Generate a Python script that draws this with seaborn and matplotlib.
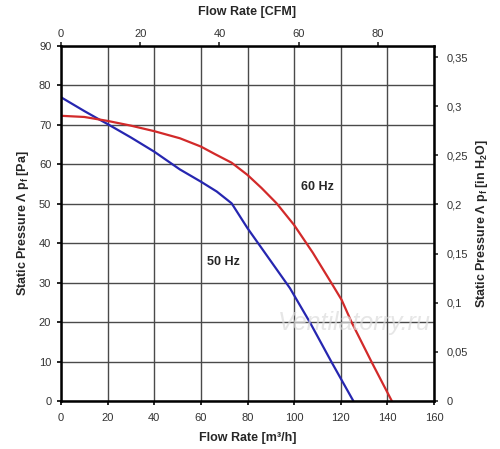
import pandas as pd
import matplotlib
matplotlib.use("Agg")
import matplotlib.pyplot as plt
import seaborn as sns

# 50 Hz curve (m3/h, Pa)
flow_50 = [0, 10, 16, 20, 30, 40, 51, 60, 66.8, 73.2, 80, 89.7, 98.2, 106.8, 116.1, 125.4]
pres_50 = [77.0, 73.5, 71.5, 70.2, 66.8, 63.2, 58.7, 55.6, 53.1, 50.1, 43.8, 35.7, 28.6, 19.9, 9.8, 0]
# 60 Hz curve
flow_60 = [0, 10, 20, 30, 40, 51, 60, 66, 73.2, 80, 86, 92.5, 100, 108, 116.1, 120.4, 124.7, 133.3, 141.9]
pres_60 = [72.3, 72.0, 71.0, 69.8, 68.4, 66.6, 64.5, 62.6, 60.4, 57.3, 54.0, 50.1, 44.6, 37.6, 29.8, 25.6, 19.9, 9.8, 0]

x_ticks = [0, 20, 40, 60, 80, 100, 120, 140, 160]
y_ticks = [0, 10, 20, 30, 40, 50, 60, 70, 80, 90]
cfm_ticks = [0, 20, 40, 60, 80]
inh2o_ticks = [0, 0.05, 0.1, 0.15, 0.2, 0.25, 0.3, 0.35]
inh2o_labels = ["0", "0,05", "0,1", "0,15", "0,2", "0,25", "0,3", "0,35"]

M3H_PER_CFM = 1.699
PA_PER_INH2O = 249.089

sns.set_style("white")
plt.rcParams['font.family'] = ['Liberation Sans', 'DejaVu Sans']

df = pd.concat([
    pd.DataFrame({"flow": flow_50, "pressure": pres_50, "freq": "50 Hz"}),
    pd.DataFrame({"flow": flow_60, "pressure": pres_60, "freq": "60 Hz"}),
])

fig = plt.figure(figsize=(5, 4.49), dpi=100)
ax = fig.add_axes([0.122, 0.107, 0.746, 0.7906])

sns.lineplot(data=df, x="flow", y="pressure", hue="freq", sort=False,
             palette={"50 Hz": "#2626b0", "60 Hz": "#d22a2a"},
             linewidth=1.6, legend=False, ax=ax)

ax.set_xlim(0, 160)
ax.set_ylim(0, 90)
ax.set_xticks(x_ticks)
ax.set_yticks(y_ticks)
ax.grid(True, color="#4a4a4a", linewidth=1.0)
for s in ax.spines.values():
    s.set_color("black")
    s.set_linewidth(1.8)
ax.tick_params(axis="x", direction="out", length=3, width=1.2, colors="black",
               labelcolor="#333333", labelsize=8, pad=6, bottom=True)
ax.tick_params(axis="y", direction="out", length=3, width=1.2, colors="black",
               labelcolor="#333333", labelsize=8, pad=4, left=True)

ax.set_xlabel("Flow Rate [m³/h]", fontsize=9, fontweight="bold", labelpad=6)
ax.set_ylabel("Static Pressure Λ p$_\\mathregular{f}$ [Pa]", fontsize=9,
              fontweight="bold", labelpad=6)

top = ax.secondary_xaxis("top", functions=(lambda v: v / M3H_PER_CFM,
                                           lambda v: v * M3H_PER_CFM))
top.set_xticks(cfm_ticks)
top.tick_params(direction="out", length=3, width=1.2, labelcolor="#333333",
                labelsize=8, pad=2)
top.set_xlabel("Flow Rate [CFM]", fontsize=9, fontweight="bold", labelpad=10)

right = ax.secondary_yaxis("right", functions=(lambda v: v / PA_PER_INH2O,
                                               lambda v: v * PA_PER_INH2O))
right.set_yticks(inh2o_ticks)
right.set_yticklabels(inh2o_labels)
right.tick_params(direction="out", length=3, width=1.2, labelcolor="#333333",
                  labelsize=8, pad=6)
right.set_ylabel("Static Pressure Λ p$_\\mathregular{f}$ [in H$_\\mathregular{2}$O]",
                 fontsize=9, fontweight="bold", labelpad=4)

ax.text(103, 54.3, "60 Hz", fontsize=9, fontweight="bold", va="center")
ax.text(62.5, 35.3, "50 Hz", fontsize=9, fontweight="bold", va="center")
ax.text(126, 19.8, "Ventilatorry.ru", fontsize=18, style="italic",
        color="#dcdcdc", alpha=0.7, ha="center", va="center")

fig.savefig("out.png", dpi=100)
